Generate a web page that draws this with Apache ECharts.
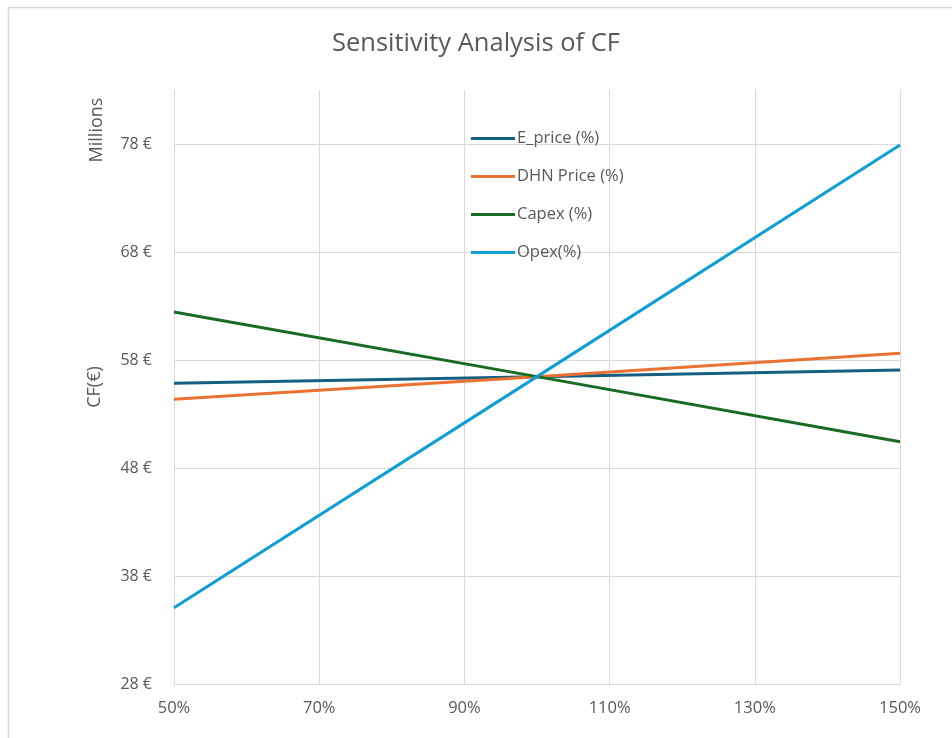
<!DOCTYPE html>
<html>
<head>
<meta charset="utf-8">
<title>Sensitivity Analysis of CF</title>
<script src="https://cdn.jsdelivr.net/npm/echarts@6/dist/echarts.min.js"></script>
<style>
  html, body { margin: 0; padding: 0; background: #ffffff; }
  #chart { width: 952px; height: 738px; }
</style>
</head>
<body>
<div id="chart"></div>
<script>
// Sensitivity of cash flow (millions €) to each input, as % of base value
const variation = [50, 100, 150];
const ePrice   = [55.84, 56.46, 57.07];
const dhnPrice = [54.36, 56.46, 58.62];
const capex    = [62.44, 56.46, 50.43];
const opex     = [35.06, 56.46, 77.90];

const seriesNames = ['E_price (%)', 'DHN Price (%)', 'Capex (%)', 'Opex(%)'];
const seriesData = [ePrice, dhnPrice, capex, opex];
const colors = ['#156082', '#E97132', '#196B24', '#0F9ED5'];

const FONT = '"Open Sans", "Noto Sans", sans-serif';
const TEXT = '#595959';
const GRID = '#d9d9d9';

// legend key: a thin 3px bar centred in a 44x14 box
const LINE_ICON = 'path://M0,0 L0,0 M0,5.5 L44,5.5 L44,8.5 L0,8.5 Z M44,14 L44,14';

const chart = echarts.init(document.getElementById('chart'), null, { renderer: 'canvas' });

chart.setOption({
  animation: false,
  backgroundColor: '#ffffff',
  title: {
    text: 'Sensitivity Analysis of CF',
    left: 'center',
    top: 31,
    padding: 0,
    textStyle: { fontFamily: FONT, fontSize: 25.5, fontWeight: 'normal', color: TEXT }
  },
  legend: {
    orient: 'vertical',
    left: 471,
    top: 130,
    padding: 0,
    itemWidth: 44,
    itemHeight: 14,
    itemGap: 21,
    icon: LINE_ICON,
    data: seriesNames,
    textStyle: { fontFamily: FONT, fontSize: 16.5, color: TEXT, padding: [0, 0, 0, -3] }
  },
  grid: { left: 174, right: 52, top: 90, bottom: 54, containLabel: false },
  xAxis: {
    type: 'value',
    min: 50,
    max: 150,
    interval: 20,
    axisLine: { show: true, lineStyle: { color: GRID, width: 1 } },
    axisTick: { show: false },
    splitLine: { show: true, lineStyle: { color: GRID, width: 1 } },
    axisLabel: {
      formatter: '{value}%',
      fontFamily: FONT, fontSize: 16.5, color: TEXT, margin: 16
    }
  },
  yAxis: {
    type: 'value',
    min: 28,
    max: 83,
    interval: 10,
    name: 'CF(€)',
    nameLocation: 'middle',
    nameGap: 70,
    nameRotate: 90,
    nameTextStyle: { fontFamily: FONT, fontSize: 18, color: TEXT },
    axisLine: { show: false },
    axisTick: { show: false },
    splitLine: { show: true, showMaxLine: false, lineStyle: { color: GRID, width: 1 } },
    axisLabel: {
      showMaxLabel: false,
      formatter: function (v) { return v + ' €'; },
      fontFamily: FONT, fontSize: 16, color: TEXT, margin: 22
    }
  },
  graphic: [
    {
      type: 'rect',
      silent: true,
      shape: { x: 8.5, y: 7.5, width: 1000, height: 1000 },
      style: { fill: 'none', stroke: '#d9d9d9', lineWidth: 1.5 }
    },
    {
      type: 'text',
      silent: true,
      x: 97,
      y: 130,
      rotation: Math.PI / 2,
      style: {
        text: 'Millions',
        fontFamily: FONT, fontSize: 18, fill: TEXT,
        align: 'center', verticalAlign: 'middle'
      }
    }
  ],
  series: seriesNames.map((name, i) => ({
    name: name,
    type: 'line',
    data: variation.map((x, j) => [x, seriesData[i][j]]),
    showSymbol: false,
    symbol: 'none',
    lineStyle: { color: colors[i], width: 3 },
    itemStyle: { color: colors[i] },
    z: 2 + i
  }))
});
</script>
</body>
</html>
